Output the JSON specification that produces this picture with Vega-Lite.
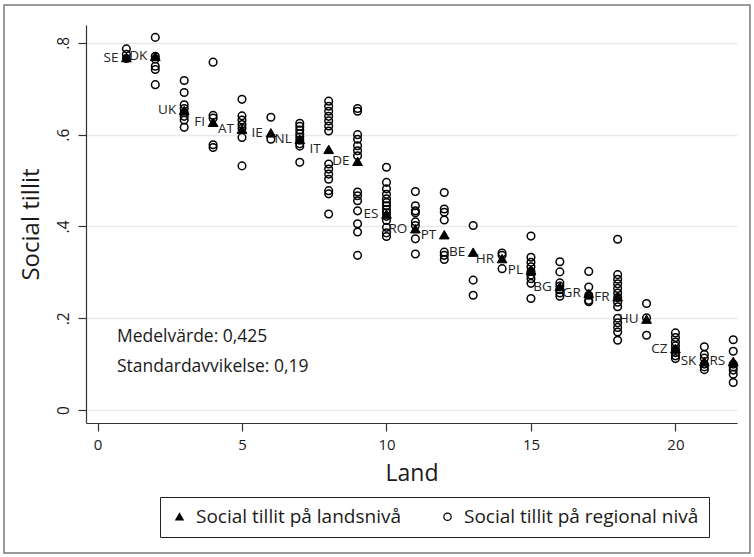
{
  "$schema": "https://vega.github.io/schema/vega-lite/v6.json",
  "autosize": {"type": "none"},
  "width": 651,
  "height": 398,
  "padding": {"left": 86, "top": 25, "right": 17, "bottom": 134},
  "background": "white",
  "config": {
    "view": {"stroke": null},
    "font": "Open Sans",
    "text": {"font": "Open Sans", "color": "#1a1a1a"},
    "axis": {"labelFont": "Open Sans", "titleFont": "Open Sans", "labelColor": "#1a1a1a", "titleColor": "#1a1a1a", "titleFontWeight": "normal", "domainColor": "#333", "tickColor": "#333"},
    "legend": {
      "labelFont": "Open Sans", "orient": "none", "legendX": 74, "legendY": 472, "direction": "horizontal",
      "strokeColor": "#222", "padding": 10, "labelFontSize": 19, "labelColor": "#1a1a1a", "labelLimit": 0,
      "symbolSize": 55, "symbolStrokeWidth": 1.2, "columnPadding": 36, "labelOffset": 7
    }
  },
  "datasets": {
    "region": [
      {"land": 1, "niva": "Social tillit på regional nivå", "tillit": 0.787},
      {"land": 1, "niva": "Social tillit på regional nivå", "tillit": 0.775},
      {"land": 1, "niva": "Social tillit på regional nivå", "tillit": 0.766},
      {"land": 2, "niva": "Social tillit på regional nivå", "tillit": 0.812},
      {"land": 2, "niva": "Social tillit på regional nivå", "tillit": 0.771},
      {"land": 2, "niva": "Social tillit på regional nivå", "tillit": 0.765},
      {"land": 2, "niva": "Social tillit på regional nivå", "tillit": 0.749},
      {"land": 2, "niva": "Social tillit på regional nivå", "tillit": 0.742},
      {"land": 2, "niva": "Social tillit på regional nivå", "tillit": 0.709},
      {"land": 3, "niva": "Social tillit på regional nivå", "tillit": 0.718},
      {"land": 3, "niva": "Social tillit på regional nivå", "tillit": 0.692},
      {"land": 3, "niva": "Social tillit på regional nivå", "tillit": 0.665},
      {"land": 3, "niva": "Social tillit på regional nivå", "tillit": 0.657},
      {"land": 3, "niva": "Social tillit på regional nivå", "tillit": 0.648},
      {"land": 3, "niva": "Social tillit på regional nivå", "tillit": 0.640},
      {"land": 3, "niva": "Social tillit på regional nivå", "tillit": 0.632},
      {"land": 3, "niva": "Social tillit på regional nivå", "tillit": 0.616},
      {"land": 4, "niva": "Social tillit på regional nivå", "tillit": 0.758},
      {"land": 4, "niva": "Social tillit på regional nivå", "tillit": 0.642},
      {"land": 4, "niva": "Social tillit på regional nivå", "tillit": 0.636},
      {"land": 4, "niva": "Social tillit på regional nivå", "tillit": 0.578},
      {"land": 4, "niva": "Social tillit på regional nivå", "tillit": 0.572},
      {"land": 5, "niva": "Social tillit på regional nivå", "tillit": 0.677},
      {"land": 5, "niva": "Social tillit på regional nivå", "tillit": 0.641},
      {"land": 5, "niva": "Social tillit på regional nivå", "tillit": 0.632},
      {"land": 5, "niva": "Social tillit på regional nivå", "tillit": 0.622},
      {"land": 5, "niva": "Social tillit på regional nivå", "tillit": 0.614},
      {"land": 5, "niva": "Social tillit på regional nivå", "tillit": 0.594},
      {"land": 5, "niva": "Social tillit på regional nivå", "tillit": 0.532},
      {"land": 6, "niva": "Social tillit på regional nivå", "tillit": 0.638},
      {"land": 6, "niva": "Social tillit på regional nivå", "tillit": 0.590},
      {"land": 7, "niva": "Social tillit på regional nivå", "tillit": 0.625},
      {"land": 7, "niva": "Social tillit på regional nivå", "tillit": 0.618},
      {"land": 7, "niva": "Social tillit på regional nivå", "tillit": 0.610},
      {"land": 7, "niva": "Social tillit på regional nivå", "tillit": 0.602},
      {"land": 7, "niva": "Social tillit på regional nivå", "tillit": 0.595},
      {"land": 7, "niva": "Social tillit på regional nivå", "tillit": 0.588},
      {"land": 7, "niva": "Social tillit på regional nivå", "tillit": 0.580},
      {"land": 7, "niva": "Social tillit på regional nivå", "tillit": 0.575},
      {"land": 7, "niva": "Social tillit på regional nivå", "tillit": 0.540},
      {"land": 8, "niva": "Social tillit på regional nivå", "tillit": 0.673},
      {"land": 8, "niva": "Social tillit på regional nivå", "tillit": 0.662},
      {"land": 8, "niva": "Social tillit på regional nivå", "tillit": 0.651},
      {"land": 8, "niva": "Social tillit på regional nivå", "tillit": 0.640},
      {"land": 8, "niva": "Social tillit på regional nivå", "tillit": 0.630},
      {"land": 8, "niva": "Social tillit på regional nivå", "tillit": 0.619},
      {"land": 8, "niva": "Social tillit på regional nivå", "tillit": 0.608},
      {"land": 8, "niva": "Social tillit på regional nivå", "tillit": 0.536},
      {"land": 8, "niva": "Social tillit på regional nivå", "tillit": 0.525},
      {"land": 8, "niva": "Social tillit på regional nivå", "tillit": 0.514},
      {"land": 8, "niva": "Social tillit på regional nivå", "tillit": 0.503},
      {"land": 8, "niva": "Social tillit på regional nivå", "tillit": 0.478},
      {"land": 8, "niva": "Social tillit på regional nivå", "tillit": 0.471},
      {"land": 8, "niva": "Social tillit på regional nivå", "tillit": 0.427},
      {"land": 9, "niva": "Social tillit på regional nivå", "tillit": 0.657},
      {"land": 9, "niva": "Social tillit på regional nivå", "tillit": 0.651},
      {"land": 9, "niva": "Social tillit på regional nivå", "tillit": 0.600},
      {"land": 9, "niva": "Social tillit på regional nivå", "tillit": 0.590},
      {"land": 9, "niva": "Social tillit på regional nivå", "tillit": 0.576},
      {"land": 9, "niva": "Social tillit på regional nivå", "tillit": 0.565},
      {"land": 9, "niva": "Social tillit på regional nivå", "tillit": 0.554},
      {"land": 9, "niva": "Social tillit på regional nivå", "tillit": 0.475},
      {"land": 9, "niva": "Social tillit på regional nivå", "tillit": 0.467},
      {"land": 9, "niva": "Social tillit på regional nivå", "tillit": 0.456},
      {"land": 9, "niva": "Social tillit på regional nivå", "tillit": 0.434},
      {"land": 9, "niva": "Social tillit på regional nivå", "tillit": 0.406},
      {"land": 9, "niva": "Social tillit på regional nivå", "tillit": 0.388},
      {"land": 9, "niva": "Social tillit på regional nivå", "tillit": 0.337},
      {"land": 10, "niva": "Social tillit på regional nivå", "tillit": 0.529},
      {"land": 10, "niva": "Social tillit på regional nivå", "tillit": 0.496},
      {"land": 10, "niva": "Social tillit på regional nivå", "tillit": 0.482},
      {"land": 10, "niva": "Social tillit på regional nivå", "tillit": 0.470},
      {"land": 10, "niva": "Social tillit på regional nivå", "tillit": 0.460},
      {"land": 10, "niva": "Social tillit på regional nivå", "tillit": 0.452},
      {"land": 10, "niva": "Social tillit på regional nivå", "tillit": 0.445},
      {"land": 10, "niva": "Social tillit på regional nivå", "tillit": 0.437},
      {"land": 10, "niva": "Social tillit på regional nivå", "tillit": 0.430},
      {"land": 10, "niva": "Social tillit på regional nivå", "tillit": 0.422},
      {"land": 10, "niva": "Social tillit på regional nivå", "tillit": 0.413},
      {"land": 10, "niva": "Social tillit på regional nivå", "tillit": 0.398},
      {"land": 10, "niva": "Social tillit på regional nivå", "tillit": 0.386},
      {"land": 10, "niva": "Social tillit på regional nivå", "tillit": 0.378},
      {"land": 11, "niva": "Social tillit på regional nivå", "tillit": 0.476},
      {"land": 11, "niva": "Social tillit på regional nivå", "tillit": 0.445},
      {"land": 11, "niva": "Social tillit på regional nivå", "tillit": 0.434},
      {"land": 11, "niva": "Social tillit på regional nivå", "tillit": 0.430},
      {"land": 11, "niva": "Social tillit på regional nivå", "tillit": 0.410},
      {"land": 11, "niva": "Social tillit på regional nivå", "tillit": 0.402},
      {"land": 11, "niva": "Social tillit på regional nivå", "tillit": 0.373},
      {"land": 11, "niva": "Social tillit på regional nivå", "tillit": 0.340},
      {"land": 12, "niva": "Social tillit på regional nivå", "tillit": 0.474},
      {"land": 12, "niva": "Social tillit på regional nivå", "tillit": 0.438},
      {"land": 12, "niva": "Social tillit på regional nivå", "tillit": 0.431},
      {"land": 12, "niva": "Social tillit på regional nivå", "tillit": 0.414},
      {"land": 12, "niva": "Social tillit på regional nivå", "tillit": 0.344},
      {"land": 12, "niva": "Social tillit på regional nivå", "tillit": 0.337},
      {"land": 12, "niva": "Social tillit på regional nivå", "tillit": 0.328},
      {"land": 13, "niva": "Social tillit på regional nivå", "tillit": 0.402},
      {"land": 13, "niva": "Social tillit på regional nivå", "tillit": 0.283},
      {"land": 13, "niva": "Social tillit på regional nivå", "tillit": 0.250},
      {"land": 14, "niva": "Social tillit på regional nivå", "tillit": 0.342},
      {"land": 14, "niva": "Social tillit på regional nivå", "tillit": 0.337},
      {"land": 14, "niva": "Social tillit på regional nivå", "tillit": 0.308},
      {"land": 15, "niva": "Social tillit på regional nivå", "tillit": 0.379},
      {"land": 15, "niva": "Social tillit på regional nivå", "tillit": 0.333},
      {"land": 15, "niva": "Social tillit på regional nivå", "tillit": 0.322},
      {"land": 15, "niva": "Social tillit på regional nivå", "tillit": 0.312},
      {"land": 15, "niva": "Social tillit på regional nivå", "tillit": 0.302},
      {"land": 15, "niva": "Social tillit på regional nivå", "tillit": 0.294},
      {"land": 15, "niva": "Social tillit på regional nivå", "tillit": 0.286},
      {"land": 15, "niva": "Social tillit på regional nivå", "tillit": 0.276},
      {"land": 15, "niva": "Social tillit på regional nivå", "tillit": 0.243},
      {"land": 16, "niva": "Social tillit på regional nivå", "tillit": 0.323},
      {"land": 16, "niva": "Social tillit på regional nivå", "tillit": 0.301},
      {"land": 16, "niva": "Social tillit på regional nivå", "tillit": 0.277},
      {"land": 16, "niva": "Social tillit på regional nivå", "tillit": 0.270},
      {"land": 16, "niva": "Social tillit på regional nivå", "tillit": 0.262},
      {"land": 16, "niva": "Social tillit på regional nivå", "tillit": 0.255},
      {"land": 16, "niva": "Social tillit på regional nivå", "tillit": 0.248},
      {"land": 17, "niva": "Social tillit på regional nivå", "tillit": 0.302},
      {"land": 17, "niva": "Social tillit på regional nivå", "tillit": 0.268},
      {"land": 17, "niva": "Social tillit på regional nivå", "tillit": 0.250},
      {"land": 17, "niva": "Social tillit på regional nivå", "tillit": 0.239},
      {"land": 17, "niva": "Social tillit på regional nivå", "tillit": 0.236},
      {"land": 18, "niva": "Social tillit på regional nivå", "tillit": 0.372},
      {"land": 18, "niva": "Social tillit på regional nivå", "tillit": 0.295},
      {"land": 18, "niva": "Social tillit på regional nivå", "tillit": 0.285},
      {"land": 18, "niva": "Social tillit på regional nivå", "tillit": 0.275},
      {"land": 18, "niva": "Social tillit på regional nivå", "tillit": 0.265},
      {"land": 18, "niva": "Social tillit på regional nivå", "tillit": 0.255},
      {"land": 18, "niva": "Social tillit på regional nivå", "tillit": 0.245},
      {"land": 18, "niva": "Social tillit på regional nivå", "tillit": 0.235},
      {"land": 18, "niva": "Social tillit på regional nivå", "tillit": 0.225},
      {"land": 18, "niva": "Social tillit på regional nivå", "tillit": 0.200},
      {"land": 18, "niva": "Social tillit på regional nivå", "tillit": 0.190},
      {"land": 18, "niva": "Social tillit på regional nivå", "tillit": 0.180},
      {"land": 18, "niva": "Social tillit på regional nivå", "tillit": 0.170},
      {"land": 18, "niva": "Social tillit på regional nivå", "tillit": 0.152},
      {"land": 19, "niva": "Social tillit på regional nivå", "tillit": 0.232},
      {"land": 19, "niva": "Social tillit på regional nivå", "tillit": 0.201},
      {"land": 19, "niva": "Social tillit på regional nivå", "tillit": 0.163},
      {"land": 20, "niva": "Social tillit på regional nivå", "tillit": 0.168},
      {"land": 20, "niva": "Social tillit på regional nivå", "tillit": 0.158},
      {"land": 20, "niva": "Social tillit på regional nivå", "tillit": 0.148},
      {"land": 20, "niva": "Social tillit på regional nivå", "tillit": 0.140},
      {"land": 20, "niva": "Social tillit på regional nivå", "tillit": 0.132},
      {"land": 20, "niva": "Social tillit på regional nivå", "tillit": 0.125},
      {"land": 20, "niva": "Social tillit på regional nivå", "tillit": 0.118},
      {"land": 20, "niva": "Social tillit på regional nivå", "tillit": 0.112},
      {"land": 21, "niva": "Social tillit på regional nivå", "tillit": 0.138},
      {"land": 21, "niva": "Social tillit på regional nivå", "tillit": 0.121},
      {"land": 21, "niva": "Social tillit på regional nivå", "tillit": 0.113},
      {"land": 21, "niva": "Social tillit på regional nivå", "tillit": 0.100},
      {"land": 21, "niva": "Social tillit på regional nivå", "tillit": 0.094},
      {"land": 21, "niva": "Social tillit på regional nivå", "tillit": 0.088},
      {"land": 22, "niva": "Social tillit på regional nivå", "tillit": 0.153},
      {"land": 22, "niva": "Social tillit på regional nivå", "tillit": 0.128},
      {"land": 22, "niva": "Social tillit på regional nivå", "tillit": 0.100},
      {"land": 22, "niva": "Social tillit på regional nivå", "tillit": 0.094},
      {"land": 22, "niva": "Social tillit på regional nivå", "tillit": 0.087},
      {"land": 22, "niva": "Social tillit på regional nivå", "tillit": 0.078},
      {"land": 22, "niva": "Social tillit på regional nivå", "tillit": 0.060}
    ],
    "landsniva": [
      {"land": 1, "kod": "SE", "niva": "Social tillit på landsnivå", "tillit": 0.768},
      {"land": 2, "kod": "DK", "niva": "Social tillit på landsnivå", "tillit": 0.771},
      {"land": 3, "kod": "UK", "niva": "Social tillit på landsnivå", "tillit": 0.653},
      {"land": 4, "kod": "FI", "niva": "Social tillit på landsnivå", "tillit": 0.627},
      {"land": 5, "kod": "AT", "niva": "Social tillit på landsnivå", "tillit": 0.612},
      {"land": 6, "kod": "IE", "niva": "Social tillit på landsnivå", "tillit": 0.604},
      {"land": 7, "kod": "NL", "niva": "Social tillit på landsnivå", "tillit": 0.590},
      {"land": 8, "kod": "IT", "niva": "Social tillit på landsnivå", "tillit": 0.568},
      {"land": 9, "kod": "DE", "niva": "Social tillit på landsnivå", "tillit": 0.542},
      {"land": 10, "kod": "ES", "niva": "Social tillit på landsnivå", "tillit": 0.427},
      {"land": 11, "kod": "RO", "niva": "Social tillit på landsnivå", "tillit": 0.395},
      {"land": 12, "kod": "PT", "niva": "Social tillit på landsnivå", "tillit": 0.382},
      {"land": 13, "kod": "BE", "niva": "Social tillit på landsnivå", "tillit": 0.344},
      {"land": 14, "kod": "HR", "niva": "Social tillit på landsnivå", "tillit": 0.330},
      {"land": 15, "kod": "PL", "niva": "Social tillit på landsnivå", "tillit": 0.305},
      {"land": 16, "kod": "BG", "niva": "Social tillit på landsnivå", "tillit": 0.269},
      {"land": 17, "kod": "GR", "niva": "Social tillit på landsnivå", "tillit": 0.254},
      {"land": 18, "kod": "FR", "niva": "Social tillit på landsnivå", "tillit": 0.247},
      {"land": 19, "kod": "HU", "niva": "Social tillit på landsnivå", "tillit": 0.198},
      {"land": 20, "kod": "CZ", "niva": "Social tillit på landsnivå", "tillit": 0.134},
      {"land": 21, "kod": "SK", "niva": "Social tillit på landsnivå", "tillit": 0.106},
      {"land": 22, "kod": "RS", "niva": "Social tillit på landsnivå", "tillit": 0.106}
    ]
  },
  "layer": [
    {
      "data": {"values": [{}]},
      "mark": {"type": "rect", "fill": null, "stroke": "#7a7a7a", "strokeWidth": 1.5},
      "encoding": {
        "x": {"datum": -3.235, "type": "quantitative", "scale": {"domain": [-0.398, 22.13], "nice": false, "zero": false}},
        "x2": {"datum": 22.578},
        "y": {"datum": 0.8826, "type": "quantitative", "scale": {"domain": [-0.0283, 0.839], "nice": false, "zero": false}},
        "y2": {"datum": -0.3116}
      }
    },
    {
      "data": {"name": "region"},
      "mark": {"type": "point", "opacity": 1, "strokeWidth": 1.5, "size": 58},
      "encoding": {
        "x": {
          "field": "land", "type": "quantitative",
          "axis": {"values": [0, 5, 10, 15, 20], "title": "Land", "titleFontSize": 23, "titlePadding": 10, "labelFontSize": 15, "tickSize": 8, "labelPadding": 6, "grid": false, "domainWidth": 1.2, "tickWidth": 1.2}
        },
        "y": {
          "field": "tillit", "type": "quantitative",
          "axis": {"values": [0, 0.2, 0.4, 0.6, 0.8], "labelExpr": "datum.value == 0 ? '0' : replace(format(datum.value, '.1f'), '0.', '.')", "labelAngle": -90, "labelAlign": "center", "labelBaseline": "bottom", "labelFontSize": 15.5, "tickSize": 8, "labelPadding": 7, "grid": true, "gridColor": "#e9e9e9", "gridWidth": 1.5, "title": "Social tillit", "titleFontSize": 24, "titlePadding": 13, "domainWidth": 1.2, "tickWidth": 1.2}
        },
        "shape": {
          "field": "niva", "type": "nominal",
          "scale": {"domain": ["Social tillit på landsnivå", "Social tillit på regional nivå"], "range": ["triangle-up", "circle"]},
          "legend": {"title": null, "labelLimit": 0}
        },
        "fill": {
          "field": "niva", "type": "nominal",
          "scale": {"domain": ["Social tillit på landsnivå", "Social tillit på regional nivå"], "range": ["black", "transparent"]},
          "legend": {"title": null, "labelLimit": 0}
        },
        "stroke": {
          "field": "niva", "type": "nominal",
          "scale": {"domain": ["Social tillit på landsnivå", "Social tillit på regional nivå"], "range": ["black", "black"]},
          "legend": {"title": null, "labelLimit": 0}
        }
      }
    },
    {
      "data": {"name": "landsniva"},
      "mark": {"type": "point", "opacity": 1, "strokeWidth": 1, "size": 95},
      "encoding": {
        "x": {"field": "land", "type": "quantitative"},
        "y": {"field": "tillit", "type": "quantitative"},
        "shape": {"field": "niva", "type": "nominal"},
        "fill": {"field": "niva", "type": "nominal"},
        "stroke": {"field": "niva", "type": "nominal"}
      }
    },
    {
      "data": {"name": "landsniva"},
      "mark": {"type": "text", "align": "right", "baseline": "middle", "dx": -8, "fontSize": 13.5, "color": "#222"},
      "encoding": {
        "x": {"field": "land", "type": "quantitative"},
        "y": {"field": "tillit", "type": "quantitative"},
        "text": {"field": "kod"}
      }
    },
    {
      "data": {"values": [{}]},
      "mark": {"type": "text", "align": "left", "baseline": "middle", "fontSize": 17.5, "text": "Medelvärde: 0,425"},
      "encoding": {
        "x": {"datum": 0.675, "type": "quantitative"},
        "y": {"datum": 0.159, "type": "quantitative"}
      }
    },
    {
      "data": {"values": [{}]},
      "mark": {"type": "text", "align": "left", "baseline": "middle", "fontSize": 17.5, "text": "Standardavvikelse: 0,19"},
      "encoding": {
        "x": {"datum": 0.675, "type": "quantitative"},
        "y": {"datum": 0.094, "type": "quantitative"}
      }
    }
  ]
}
